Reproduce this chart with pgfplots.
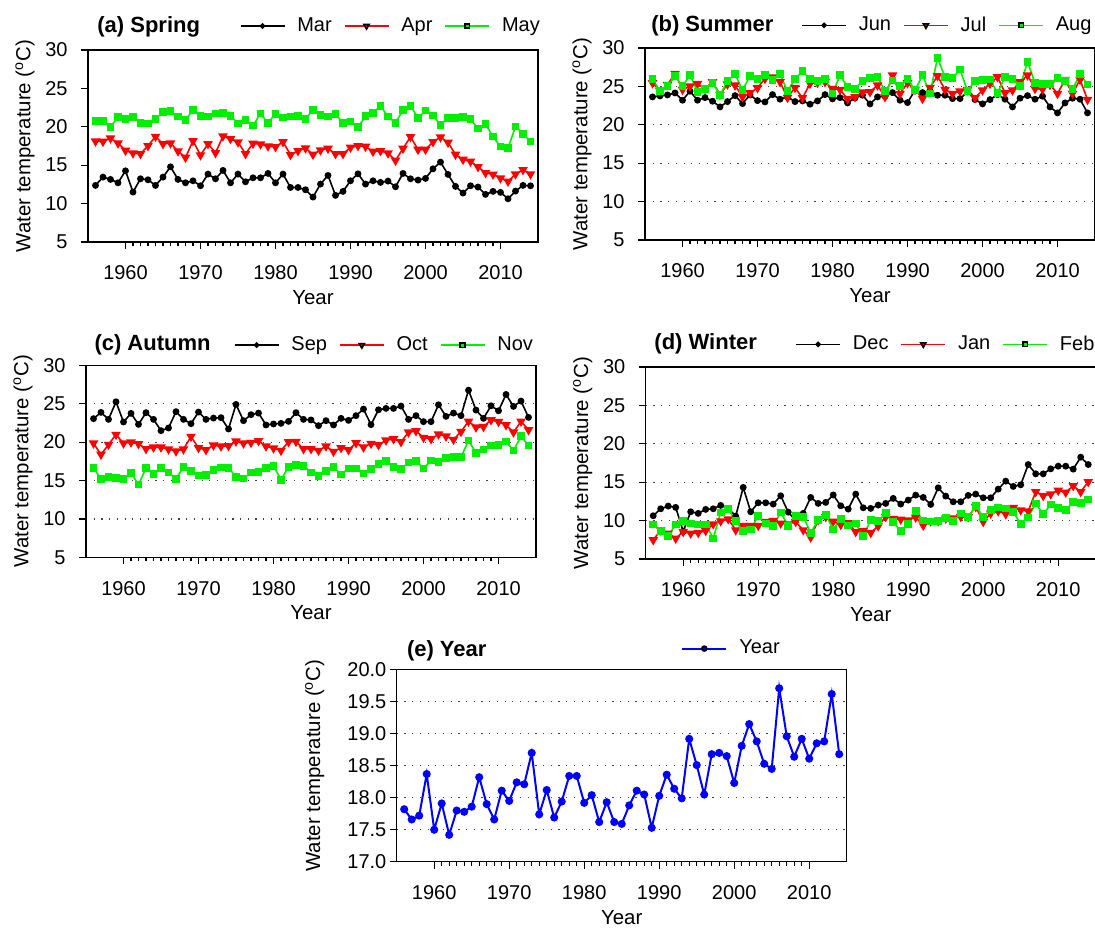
\documentclass[border=0pt]{standalone}
\usepackage{fontspec}
\setmainfont{Liberation Sans}
\usepackage{pgfplots}
\usepackage{pgfplotstable}
\pgfplotsset{compat=1.18}
\definecolor{mred}{RGB}{255,0,0}
\definecolor{mgreen}{RGB}{0,238,0}
\definecolor{mblue}{RGB}{0,0,255}

\pgfplotstableread{
yr a b c
1956 12.37 18.13 20.77
1957 13.45 18.08 20.73
1958 13.15 18.52 19.95
1959 12.71 17.87 21.29
1960 14.27 16.91 20.99
1961 11.50 16.57 21.29
1962 13.23 16.48 20.47
1963 13.10 17.52 20.42
1964 12.37 18.73 21.03
1965 13.45 17.78 21.94
1966 14.79 17.87 22.07
1967 13.15 16.83 21.33
1968 12.71 16.00 20.90
1969 12.97 18.17 22.16
1970 12.32 16.31 21.38
1971 13.84 17.78 21.33
1972 13.23 16.61 21.72
1973 14.32 18.78 21.77
1974 12.71 18.43 21.42
1975 13.84 18.00 20.42
1976 12.84 16.48 20.86
1977 13.36 17.83 20.16
1978 13.36 17.74 21.72
1979 13.93 17.48 20.51
1980 12.71 17.39 21.68
1981 13.84 18.04 21.20
1982 12.10 16.35 21.33
1983 12.10 16.87 21.42
1984 11.80 17.22 21.03
1985 10.85 16.39 22.20
1986 12.54 16.96 21.51
1987 13.67 17.17 21.33
1988 11.07 16.48 21.68
1989 11.59 16.48 20.47
1990 12.97 17.30 20.68
1991 13.88 17.52 19.95
1992 12.54 17.43 21.38
1993 12.97 16.78 21.81
1994 12.76 16.87 22.72
1995 12.93 16.57 21.33
1996 12.19 15.62 20.51
1997 13.93 17.17 22.20
1998 13.23 18.69 22.72
1999 13.06 17.04 21.16
2000 13.28 17.04 22.11
2001 14.53 18.04 21.46
2002 15.40 18.65 20.25
2003 13.80 17.96 21.12
2004 12.24 16.39 21.12
2005 11.37 15.74 21.29
2006 12.32 15.49 20.99
2007 12.15 14.79 19.77
2008 11.20 14.01 20.34
2009 11.59 13.80 18.73
2010 11.46 13.32 17.43
2011 10.63 12.89 17.22
2012 11.63 13.84 20.03
2013 12.37 14.40 19.04
2014 12.32 13.84 18.08
}\spring

\pgfplotstableread{
yr a b c
1956 23.63 25.45 25.93
1957 23.76 24.41 24.41
1958 23.89 25.23 25.02
1959 24.15 26.66 26.32
1960 23.20 24.58 25.02
1961 24.37 25.02 26.49
1962 23.20 25.36 24.28
1963 23.54 24.71 24.67
1964 23.07 25.58 25.45
1965 22.33 23.93 23.89
1966 23.02 25.28 25.67
1967 23.80 25.15 26.62
1968 22.76 23.63 24.50
1969 23.89 24.15 26.36
1970 23.15 24.80 25.97
1971 22.98 26.01 26.45
1972 23.93 26.19 25.80
1973 23.33 25.58 26.58
1974 23.63 23.54 24.37
1975 23.02 24.84 25.93
1976 23.11 23.50 27.00
1977 22.68 25.36 25.93
1978 23.11 25.49 25.67
1979 23.93 25.58 25.93
1980 23.37 24.71 24.06
1981 23.54 24.58 26.45
1982 22.85 23.37 24.93
1983 23.50 23.63 24.67
1984 23.85 24.24 25.67
1985 22.72 24.28 26.10
1986 23.63 25.15 26.23
1987 23.72 23.63 24.41
1988 24.19 26.45 25.75
1989 23.20 24.06 25.02
1990 22.89 25.45 25.97
1991 24.50 24.58 24.50
1992 24.19 23.41 26.45
1993 24.40 24.84 24.06
1994 23.85 26.36 28.70
1995 23.85 24.58 26.23
1996 23.41 24.06 26.06
1997 23.41 24.37 27.18
1998 24.28 24.58 24.41
1999 23.28 23.50 25.71
2000 22.72 24.50 25.80
2001 23.28 25.36 25.88
2002 23.93 26.23 24.15
2003 23.33 24.15 26.23
2004 22.33 24.50 25.97
2005 23.46 25.58 25.02
2006 23.80 26.45 28.18
2007 23.33 24.71 25.45
2008 23.72 24.63 25.28
2009 22.33 25.23 25.28
2010 21.55 24.06 26.10
2011 22.85 25.88 25.71
2012 23.46 24.06 24.63
2013 23.33 25.88 26.58
2014 21.55 23.28 25.23
}\summer

\pgfplotstableread{
yr a b c
1956 23.05 19.85 16.61
1957 23.87 18.39 15.23
1958 22.96 19.68 15.45
1959 25.25 20.98 15.32
1960 22.62 19.85 15.23
1961 23.74 19.98 16.01
1962 22.31 19.77 14.46
1963 23.83 19.12 16.61
1964 22.96 19.33 15.88
1965 21.49 19.33 16.61
1966 21.84 19.08 16.05
1967 23.96 18.82 15.23
1968 22.96 19.08 16.74
1969 22.40 20.72 16.23
1970 23.91 19.25 15.66
1971 22.96 18.99 15.71
1972 23.13 19.59 16.36
1973 23.18 19.46 16.70
1974 21.71 19.51 16.66
1975 24.90 20.11 15.45
1976 22.79 19.85 15.28
1977 23.57 19.94 16.05
1978 23.78 20.16 16.10
1979 22.23 19.46 16.61
1980 22.36 19.21 16.92
1981 22.44 18.90 15.10
1982 22.70 20.03 16.74
1983 23.83 20.07 17.00
1984 22.96 19.12 16.92
1985 22.88 19.12 16.05
1986 22.14 18.90 15.62
1987 22.79 19.46 16.27
1988 22.23 18.77 16.74
1989 23.09 19.25 15.79
1990 22.83 18.99 16.57
1991 23.44 19.89 16.57
1992 24.30 19.33 15.92
1993 22.27 19.81 16.53
1994 24.21 19.64 17.13
1995 24.39 20.24 17.52
1996 24.39 20.41 16.79
1997 24.69 20.03 16.49
1998 22.96 21.28 17.35
1999 23.44 21.45 17.52
2000 22.66 20.59 16.57
2001 22.66 20.41 17.61
2002 24.86 21.02 17.39
2003 23.35 20.76 17.95
2004 23.78 20.33 18.04
2005 23.44 21.36 18.04
2006 26.76 22.70 20.20
2007 24.17 21.93 18.60
2008 23.09 22.01 19.03
2009 24.73 22.88 19.55
2010 24.08 22.66 19.59
2011 26.20 22.23 20.07
2012 24.65 21.28 18.90
2013 25.34 22.70 20.76
2014 23.22 21.58 19.55
}\autumn

\pgfplotstableread{
yr a b c
1956 10.63 7.47 9.51
1957 11.54 8.77 8.68
1958 11.89 8.34 7.99
1959 11.72 7.69 9.51
1960 8.60 8.55 9.94
1961 11.15 8.34 9.64
1962 10.94 8.42 9.51
1963 11.46 8.68 9.51
1964 11.54 9.55 7.69
1965 11.98 9.94 11.07
1966 11.59 10.20 11.54
1967 10.59 8.77 9.94
1968 14.32 9.33 8.64
1969 11.15 9.33 8.86
1970 12.32 9.33 10.59
1971 12.32 9.85 9.64
1972 12.15 9.98 9.33
1973 13.23 9.64 11.07
1974 11.11 9.55 9.33
1975 10.00 9.85 10.59
1976 10.94 8.77 10.50
1977 13.02 7.82 8.42
1978 12.24 10.07 10.07
1979 12.37 10.50 10.76
1980 13.34 9.90 8.86
1981 11.93 9.46 10.20
1982 11.50 9.70 9.35
1983 13.45 8.55 9.64
1984 11.67 8.68 7.99
1985 11.59 8.42 10.07
1986 12.02 9.29 9.94
1987 12.24 10.50 11.02
1988 12.89 10.24 9.81
1989 12.15 10.16 8.64
1990 12.67 10.07 9.59
1991 13.32 10.42 11.24
1992 13.02 9.38 10.03
1993 12.11 9.94 9.90
1994 14.27 9.94 9.94
1995 13.19 10.29 10.37
1996 12.45 10.33 9.94
1997 12.45 10.50 10.94
1998 13.28 10.50 10.46
1999 13.45 11.80 11.89
2000 12.97 9.85 10.50
2001 12.97 10.94 11.37
2002 14.10 11.24 11.72
2003 15.14 10.85 11.59
2004 14.45 11.67 11.15
2005 14.66 11.37 9.55
2006 17.30 11.24 10.42
2007 16.09 13.75 12.24
2008 16.09 13.23 10.85
2009 16.74 13.45 12.11
2010 17.09 13.93 11.67
2011 17.09 13.67 11.37
2012 16.70 14.53 12.45
2013 18.26 13.75 12.28
2014 17.30 15.05 12.76
}\winter

\pgfplotstableread{
yr a
1956 17.82
1957 17.66
1958 17.72
1959 18.37
1960 17.50
1961 17.91
1962 17.42
1963 17.80
1964 17.78
1965 17.86
1966 18.32
1967 17.90
1968 17.66
1969 18.11
1970 17.95
1971 18.24
1972 18.21
1973 18.70
1974 17.74
1975 18.12
1976 17.69
1977 17.94
1978 18.34
1979 18.34
1980 17.92
1981 18.04
1982 17.62
1983 17.93
1984 17.62
1985 17.59
1986 17.88
1987 18.11
1988 18.05
1989 17.53
1990 18.03
1991 18.36
1992 18.14
1993 17.99
1994 18.92
1995 18.51
1996 18.05
1997 18.68
1998 18.70
1999 18.65
2000 18.23
2001 18.81
2002 19.15
2003 18.88
2004 18.53
2005 18.45
2006 19.71
2007 18.96
2008 18.64
2009 18.92
2010 18.61
2011 18.85
2012 18.88
2013 19.62
2014 18.68
}\annual

\pgfplotsset{
  panel/.style={
    scale only axis, width=225pt, height=96pt,
    xmin=1955, xmax=2015, ymin=5, ymax=30,
    xtick={1960,1970,...,2010}, minor x tick num=9,
    ytick={5,10,...,30},
    tick pos=left, tick align=outside,
    major tick length=3.5pt, minor tick length=2pt,
    axis line style={line width=0.7pt},
    every tick/.style={black, line width=0.6pt},
    /pgf/number format/assume math mode=true,
    /pgf/number format/1000 sep={},
    tick label style={font=\fontsize{10}{12}\selectfont},
    xticklabel style={anchor=center, yshift=-12pt},
    yticklabel style={anchor=east, inner sep=0pt, xshift=-6.5pt},
    label style={font=\fontsize{10.2}{12}\selectfont},
    xlabel={Year},
    ylabel={Water temperature (\textsuperscript{o}C)},
    xlabel style={at={(axis description cs:0.5,-0.29)}, anchor=center},
    ylabel style={at={(axis description cs:-0.14,0.5)}, anchor=center},
    title style={anchor=west, inner sep=0pt, yshift=-6pt, font=\bfseries\fontsize{11}{13}\selectfont},
    legend style={draw=none, fill=none, anchor=east, legend columns=-1,
      font=\fontsize{10}{12}\selectfont, inner sep=0pt,
      nodes={inner sep=0pt},
      /tikz/every odd column/.append style={column sep=6pt},
      /tikz/every even column/.append style={column sep=6pt}},
    legend image code/.code={\draw[mark repeat=2,mark phase=2,##1,
      /tikz/every mark/.append style={scale=0.75,draw=black}]
      plot coordinates {(0pt,0pt) (11pt,0pt) (22pt,0pt)};},
    major grid style={line width=0.6pt, black!75, dash pattern=on 0.6pt off 3.25pt},
  },
  s1/.style={black, line width=0.8pt, mark=*, mark size=1.3pt, mark options={solid, fill=black}},
  s2/.style={mred, line width=0.8pt, mark=triangle*, mark size=2pt, mark options={solid, rotate=180, fill=mred}},
  s3/.style={mgreen, line width=0.8pt, mark=square*, mark size=1.5pt, mark options={solid, fill=mgreen}},
}

\begin{document}
\begin{tikzpicture}[x=1pt,y=1pt]
% (a)
\begin{axis}[panel, at={(44pt,343pt)}, anchor=south west,
  title={(a) Spring}, title style={at={(axis description cs:0.02,1.12)}},
  legend style={at={(axis description cs:1.005,1.125)}}]
\addplot[s1] table[x=yr,y=a] {\spring}; \addlegendentry{Mar}
\addplot[s2] table[x=yr,y=b] {\spring}; \addlegendentry{Apr}
\addplot[s3] table[x=yr,y=c] {\spring}; \addlegendentry{May}
\end{axis}
% (b)
\begin{axis}[panel, ymajorgrids, at={(322.5pt,344pt)}, anchor=south west,
  title={(b) Summer}, title style={at={(axis description cs:0.013,1.118)}},
  legend style={at={(axis description cs:0.993,1.118)}}]
\addplot[s1] table[x=yr,y=a] {\summer}; \addlegendentry{Jun}
\addplot[s2] table[x=yr,y=b] {\summer}; \addlegendentry{Jul}
\addplot[s3] table[x=yr,y=c] {\summer}; \addlegendentry{Aug}
\end{axis}
% (c)
\begin{axis}[panel, ymajorgrids, at={(43pt,185.35pt)}, anchor=south west,
  title={(c) Autumn}, title style={at={(axis description cs:0.018,1.109)}},
  legend style={at={(axis description cs:0.994,1.105)}}]
\addplot[s1] table[x=yr,y=a] {\autumn}; \addlegendentry{Sep}
\addplot[s2] table[x=yr,y=b] {\autumn}; \addlegendentry{Oct}
\addplot[s3] table[x=yr,y=c] {\autumn}; \addlegendentry{Nov}
\end{axis}
% (d)
\begin{axis}[panel, ymajorgrids, at={(322.85pt,184.5pt)}, anchor=south west,
  title={(d) Winter}, title style={at={(axis description cs:0.0185,1.121)}},
  legend style={at={(axis description cs:0.998,1.118)}}]
\addplot[s1] table[x=yr,y=a] {\winter}; \addlegendentry{Dec}
\addplot[s2] table[x=yr,y=b] {\winter}; \addlegendentry{Jan}
\addplot[s3] table[x=yr,y=c] {\winter}; \addlegendentry{Feb}
\end{axis}
% (e)
\begin{axis}[panel, ymajorgrids, at={(198.35pt,33.15pt)}, anchor=south west,
  ymin=17, ymax=20, ytick={17,17.5,...,20},
  yticklabel style={xshift=5pt, /pgf/number format/fixed, /pgf/number format/fixed zerofill, /pgf/number format/precision=1},
  ylabel style={at={(axis description cs:-0.182,0.5)}},
  title={(e) Year}, title style={at={(axis description cs:0.022,1.1)}},
  legend style={at={(axis description cs:0.852,1.11)}}]
\addplot[mblue, line width=1pt, mark=*, mark size=1.5pt, mark options={solid, fill=mblue}] table[x=yr,y=a] {\annual}; \addlegendentry{Year}
\end{axis}
\pgfresetboundingbox
\path[use as bounding box] (0pt,0pt) rectangle (547.5pt,464pt);
\end{tikzpicture}
\end{document}
